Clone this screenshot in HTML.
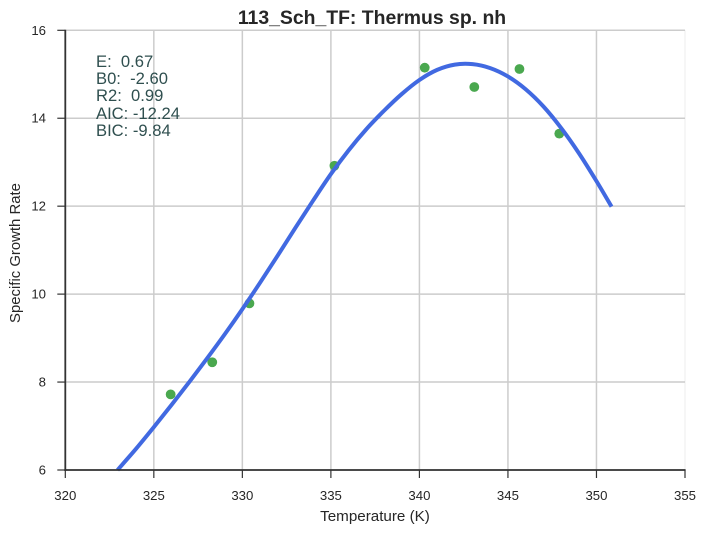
<!DOCTYPE html>
<html lang="en">
<head>
<meta charset="utf-8">
<title>113_Sch_TF: Thermus sp. nh</title>
<style>
  html, body { margin: 0; padding: 0; background: #fff; }
  body { width: 706px; height: 533px; overflow: hidden; }
  svg { display: block; font-family: "Liberation Sans", Arial, sans-serif; }
</style>
</head>
<body>
<svg id="chart" width="706" height="533" viewBox="0 0 706 533" xmlns="http://www.w3.org/2000/svg">
  <rect width="706" height="533" fill="#ffffff"/>
  <g id="grid"></g>
  <g id="series"></g>
  <g id="axes"></g>
  <text x="372" y="24" text-anchor="middle" font-size="19.4" font-weight="bold" fill="#262626">113_Sch_TF: Thermus sp. nh</text>
  <text x="375" y="521" text-anchor="middle" font-size="15.2" fill="#262626">Temperature (K)</text>
  <text transform="translate(20 253) rotate(-90)" text-anchor="middle" font-size="14.9" fill="#262626">Specific Growth Rate</text>
  <g font-size="16.6" fill="#2f4f4f">
    <text x="96" y="67" xml:space="preserve">E:  0.67</text>
    <text x="96" y="84" xml:space="preserve">B0:  -2.60</text>
    <text x="96" y="101" xml:space="preserve">R2:  0.99</text>
    <text x="96" y="119">AIC: -12.24</text>
    <text x="96" y="136">BIC: -9.84</text>
  </g>
</svg>
<script>
const xTicks = [320, 325, 330, 335, 340, 345, 350, 355];
const yTicks = [6, 8, 10, 12, 14, 16];
const pointTemps = [325.95, 328.3, 330.4, 335.2, 340.3, 343.1, 345.65, 347.9];
const pointRates = [7.72, 8.45, 9.79, 12.92, 15.15, 14.71, 15.12, 13.65];
const curveTemps = [322.95, 324, 325, 326, 327, 328, 329, 330, 331, 332, 333, 334, 335, 336, 337, 338, 339, 340, 341, 342, 343, 344, 345, 346, 347, 348, 349, 350, 350.85];
const curveRates = [6.0, 6.485, 6.975, 7.48, 8.0, 8.535, 9.085, 9.66, 10.26, 10.88, 11.51, 12.13, 12.73, 13.27, 13.75, 14.17, 14.55, 14.87, 15.1, 15.22, 15.23, 15.14, 14.95, 14.66, 14.27, 13.78, 13.21, 12.57, 11.99];

const NS = 'http://www.w3.org/2000/svg';
const plot = { left: 65.3, right: 685, top: 30.3, bottom: 470 };
const xMin = 320, xMax = 355, yMin = 6, yMax = 16;
function xScale(v) { return plot.left + (v - xMin) / (xMax - xMin) * (plot.right - plot.left); }
function yScale(v) { return plot.bottom - (v - yMin) / (yMax - yMin) * (plot.bottom - plot.top); }
function make(tag, parent, attrs) {
  const el = document.createElementNS(NS, tag);
  for (const k in attrs) el.setAttribute(k, attrs[k]);
  parent.appendChild(el);
  return el;
}
const grid = document.getElementById('grid');
const axes = document.getElementById('axes');
const series = document.getElementById('series');

xTicks.forEach(function (t) {
  const x = xScale(t);
  const last = t === xMax;
  const g = make('line', grid, { x1: x, x2: x, y1: plot.top, y2: plot.bottom, stroke: last ? '#eeeeee' : '#cccccc', 'stroke-width': last ? 1 : 1.5 });
  
  
  const m = make('line', axes, { x1: x, x2: x, y1: plot.bottom, y2: plot.bottom + 8, stroke: '#333333', 'stroke-width': 1.2 });
  
  
  const l = make('text', axes, { x: x, y: 500, 'text-anchor': 'middle', 'font-size': 13.2, fill: '#262626' });
  
  
  l.textContent = t;
});
yTicks.forEach(function (t) {
  const y = yScale(t);
  const g = make('line', grid, { x1: plot.left, x2: plot.right, y1: y, y2: y, stroke: '#cccccc', 'stroke-width': 1.5 });
  
  
  const m = make('line', axes, { x1: plot.left - 8, x2: plot.left, y1: y, y2: y, stroke: '#333333', 'stroke-width': 1.2 });
  
  
  const l = make('text', axes, { x: 46, y: y + 4.5, 'text-anchor': 'end', 'font-size': 13.2, fill: '#262626' });
  
  
  l.textContent = t;
});
const xAxisLine = make('line', axes, { x1: plot.left - 1, x2: plot.right + 0.6, y1: plot.bottom, y2: plot.bottom, stroke: '#333333', 'stroke-width': 1.8 });


const yAxisLine = make('line', axes, { x1: plot.left, x2: plot.left, y1: plot.top - 0.6, y2: plot.bottom + 1, stroke: '#333333', 'stroke-width': 1.8 });



pointTemps.forEach(function (t, i) {
  const c = make('circle', series, { cx: xScale(t), cy: yScale(pointRates[i]), r: 4.9, fill: '#4aa84f' });
  
  
});

const pts = curveTemps.map(function (t, i) { return [xScale(t), yScale(curveRates[i])]; });
let d = 'M' + pts[0][0] + ' ' + pts[0][1];
for (let i = 0; i < pts.length - 1; i++) {
  const p0 = pts[Math.max(i - 1, 0)], p1 = pts[i], p2 = pts[i + 1], p3 = pts[Math.min(i + 2, pts.length - 1)];
  d += ' C' + (p1[0] + (p2[0] - p0[0]) / 6) + ' ' + (p1[1] + (p2[1] - p0[1]) / 6) + ' ' +
       (p2[0] - (p3[0] - p1[0]) / 6) + ' ' + (p2[1] - (p3[1] - p1[1]) / 6) + ' ' + p2[0] + ' ' + p2[1];
}
const curve = make('path', series, { d: d, fill: 'none', stroke: '#4169e1', 'stroke-width': 4, 'stroke-linecap': 'butt', 'stroke-linejoin': 'round' });


</script>
</body>
</html>
